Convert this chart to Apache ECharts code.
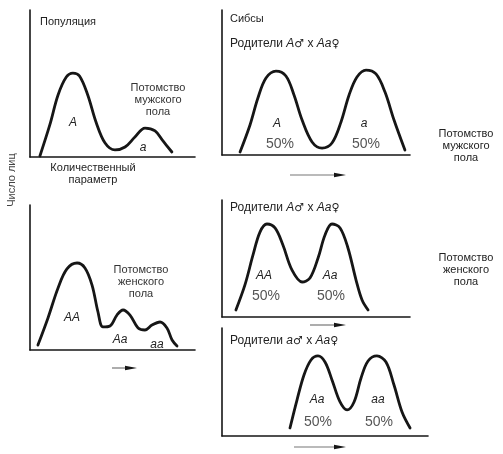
<!DOCTYPE html>
<html>
<head>
<meta charset="utf-8">
<script src="https://cdn.jsdelivr.net/npm/echarts@6/dist/echarts.min.js"></script>
<style>
  html, body { margin: 0; padding: 0; background: #fff; }
  #chart { width: 503px; height: 454px; }
</style>
</head>
<body>
<div id="chart"></div>
<script>
// Distributions of a quantitative trait (relative units, 0..100 on both axes)

// Population, male offspring: A and a classes
const popMaleX = [6, 12, 17, 22, 26, 30, 35, 40, 45.5, 51.5, 57.6, 63.6, 69.7, 75.8, 80.6, 86];
const popMaleY = [0.7, 21.8, 42.2, 54.4, 57.1, 55.1, 42.2, 23.8, 9.5, 4.8, 6.8, 13.6, 19.7, 17.7, 10.9, 3.4];

// Population, female offspring: AA, Aa, aa classes
const popFemaleX = [4.8, 10.9, 17, 22.4, 28.5, 33.3, 37.6, 41.2, 44.2, 48.5, 52.7, 56.4, 60.6, 65.5, 69.7, 73.9, 78.8, 83, 86.1, 89.1];
const popFemaleY = [3.4, 22.1, 42.8, 55.9, 60, 56.6, 44.8, 26.2, 15.9, 16.6, 24.1, 27.6, 24.1, 15.2, 13.8, 17.2, 19.3, 15.2, 6.9, 2.8];

// Sibs, parents A♂ x Aa♀, male offspring
const sibMaleX = [9.6, 14.9, 19.1, 23.4, 28.7, 34, 38.3, 42.6, 47.9, 53.2, 58.5, 63.3, 67.6, 71.8, 76.6, 81.9, 86.7, 91.5, 97.3];
const sibMaleY = [2.1, 20.7, 39.3, 53.1, 57.9, 54.5, 41.4, 24.1, 9, 4.8, 8.3, 22.8, 41.4, 53.8, 58.6, 55.9, 43.4, 24.1, 3.4];

// Sibs, parents A♂ x Aa♀, female offspring
const sibFemale1X = [7.4, 12.2, 16.5, 20.2, 23.9, 28.2, 32.4, 37.2, 42.6, 46.8, 51.1, 54.8, 58.5, 62.8, 67, 71.3, 74.5, 77.7];
const sibFemale1Y = [6, 27.4, 53, 72.6, 79.5, 76.1, 61.5, 40.2, 29.9, 33.3, 50.4, 70.1, 79.5, 76.1, 59, 31.6, 14.5, 6];

// Sibs, parents a♂ x Aa♀, female offspring
const sibFemale2X = [33, 36.4, 39.8, 43.2, 46.6, 50, 53.4, 57.3, 60.7, 64.1, 67.5, 70.9, 75.2, 79.6, 83.5, 87.4, 91.3];
const sibFemale2Y = [7.4, 33.3, 56.5, 70.4, 74.1, 68.5, 51.9, 31.5, 24.1, 31.5, 53.7, 69.4, 74.1, 68.5, 47.2, 22.2, 7.4];

const curves = [
  [popMaleX, popMaleY],
  [popFemaleX, popFemaleY],
  [sibMaleX, sibMaleY],
  [sibFemale1X, sibFemale1Y],
  [sibFemale2X, sibFemale2Y]
];

const grids = [
  { left: 30,  top: 10,  width: 165, height: 147 },
  { left: 30,  top: 205, width: 165, height: 145 },
  { left: 222, top: 10,  width: 188, height: 145 },
  { left: 222, top: 200, width: 188, height: 117 },
  { left: 222, top: 328, width: 206, height: 108 }
];

const INK = '#161616';
const FONT = '"Liberation Sans", "DejaVu Sans", sans-serif';

function axis(i) {
  return {
    type: 'value', gridIndex: i, min: 0, max: 100,
    axisLine: { show: true, onZero: false, lineStyle: { color: INK, width: 1.6 } },
    axisTick: { show: false }, axisLabel: { show: false }, splitLine: { show: false }
  };
}

function txt(text, x, y, opts) {
  opts = opts || {};
  return {
    type: 'text', silent: true,
    x: x, y: y, rotation: opts.rotation || 0,
    style: {
      text: text, x: 0, y: 0,
      fill: opts.fill || '#222',
      font: (opts.italic ? 'italic ' : '') + (opts.size || 11) + 'px ' + FONT,
      align: opts.align || 'left', verticalAlign: 'middle',
      lineHeight: opts.lineHeight || 12,
      rich: opts.rich
    }
  };
}

function arrow(x1, x2, y) {
  return [
    { type: 'line', silent: true, shape: { x1: x1, y1: y, x2: x2 - 9, y2: y },
      style: { stroke: '#777', lineWidth: 1.2 } },
    { type: 'polygon', silent: true,
      shape: { points: [[x2 - 12, y - 2.2], [x2, y], [x2 - 12, y + 2.2]] },
      style: { fill: INK } }
  ];
}

const parentRich = { i: { fontStyle: 'italic', fontSize: 12, fontFamily: FONT, fill: '#222' },
                     s: { fontSize: 11, fontFamily: '"DejaVu Sans"', fill: '#222' } };

const graphics = [
  txt('Популяция', 40, 22),
  txt('Потомство\nмужского\nпола', 158, 100, { align: 'center', fill: '#333' }),
  txt('A', 73, 123, { italic: true, align: 'center', size: 12 }),
  txt('a', 143, 148, { italic: true, align: 'center', size: 12 }),
  txt('Количественный\nпараметр', 93, 174, { align: 'center' }),
  txt('Число лиц', 12, 180, { align: 'center', rotation: Math.PI / 2, fill: '#444' }),

  txt('Потомство\nженского\nпола', 141, 282, { align: 'center', fill: '#333' }),
  txt('AA', 72, 318, { italic: true, align: 'center', size: 12 }),
  txt('Aa', 120, 340, { italic: true, align: 'center', size: 12 }),
  txt('aa', 157, 345, { italic: true, align: 'center', size: 12 }),

  txt('Сибсы', 230, 19),
  txt('Родители {i|A}{s|♂} x {i|Aa}{s|♀}', 230, 44, { rich: parentRich, size: 12 }),
  txt('A', 277, 124, { italic: true, align: 'center', size: 12 }),
  txt('50%', 280, 144, { size: 14, align: 'center', fill: '#555' }),
  txt('a', 364, 124, { italic: true, align: 'center', size: 12 }),
  txt('50%', 366, 144, { size: 14, align: 'center', fill: '#555' }),
  txt('Потомство\nмужского\nпола', 466, 146, { align: 'center' }),

  txt('Родители {i|A}{s|♂} x {i|Aa}{s|♀}', 230, 208, { rich: parentRich, size: 12 }),
  txt('AA', 264, 276, { italic: true, align: 'center', size: 12 }),
  txt('50%', 266, 296, { size: 14, align: 'center', fill: '#555' }),
  txt('Aa', 330, 276, { italic: true, align: 'center', size: 12 }),
  txt('50%', 331, 296, { size: 14, align: 'center', fill: '#555' }),
  txt('Потомство\nженского\nпола', 466, 270, { align: 'center' }),

  txt('Родители {i|a}{s|♂} x {i|Aa}{s|♀}', 230, 341, { rich: parentRich, size: 12 }),
  txt('Aa', 317, 400, { italic: true, align: 'center', size: 12 }),
  txt('50%', 318, 422, { size: 14, align: 'center', fill: '#555' }),
  txt('aa', 378, 400, { italic: true, align: 'center', size: 12 }),
  txt('50%', 379, 422, { size: 14, align: 'center', fill: '#555' })
].concat(
  arrow(112, 137, 368),
  arrow(290, 346, 175),
  arrow(310, 346, 325),
  arrow(294, 346, 447)
);

const chart = echarts.init(document.getElementById('chart'), null, { renderer: 'canvas' });
chart.setOption({
  backgroundColor: '#fff',
  animation: false,
  grid: grids,
  xAxis: grids.map((g, i) => axis(i)),
  yAxis: grids.map((g, i) => axis(i)),
  series: curves.map((c, i) => ({
    type: 'line', xAxisIndex: i, yAxisIndex: i,
    data: c[0].map((x, k) => [x, c[1][k]]),
    smooth: 0.35, showSymbol: false, symbol: 'none',
    lineStyle: { color: INK, width: 2.8, cap: 'round', join: 'round' }
  })),
  graphic: graphics
});
</script>
</body>
</html>
